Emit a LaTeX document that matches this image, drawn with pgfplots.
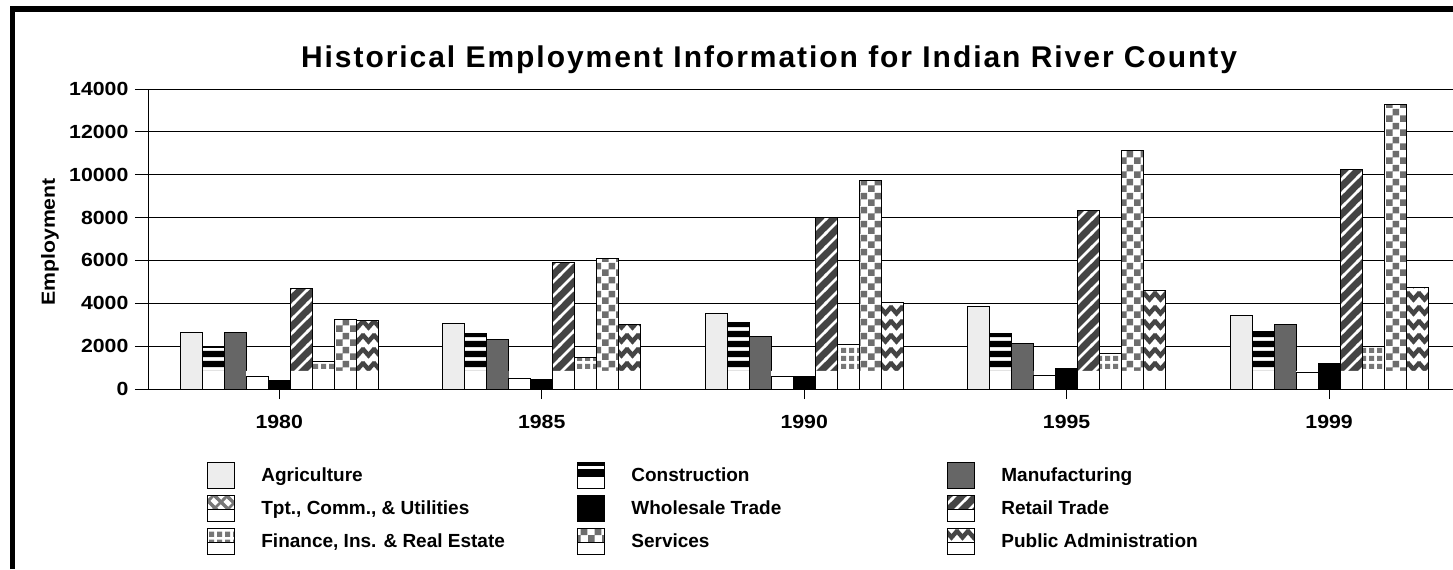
\documentclass[border=0pt]{standalone}
\usepackage{fontspec}
\setmainfont{Liberation Sans}
\usepackage{pgfplots}
\usepackage{pgfplotstable}
\pgfplotsset{compat=1.18}
\usetikzlibrary{patterns}

\definecolor{agri}{HTML}{EDEDED}
\definecolor{manu}{HTML}{666666}
\definecolor{dark44}{HTML}{444444}
\definecolor{gray6e}{HTML}{6E6E6E}
\definecolor{gray77}{HTML}{777777}

% patterns (1px = 0.5pt)
\pgfdeclarepatternformonly{hbands}{\pgfqpoint{0pt}{0pt}}{\pgfqpoint{800pt}{5pt}}{\pgfqpoint{800pt}{5pt}}{%
  \pgfpathrectangle{\pgfqpoint{0pt}{1.5pt}}{\pgfqpoint{800pt}{3.5pt}}\pgfusepath{fill}}
\pgfdeclarepatternformonly{nelines}{\pgfqpoint{-1pt}{-1pt}}{\pgfqpoint{8pt}{8pt}}{\pgfqpoint{7pt}{7pt}}{%
  \pgfsetlinewidth{1.3pt}\pgfpathmoveto{\pgfqpoint{-1pt}{-1pt}}\pgfpathlineto{\pgfqpoint{8pt}{8pt}}\pgfusepath{stroke}}
\pgfdeclarepatternformonly{nwlines}{\pgfqpoint{-1pt}{-1pt}}{\pgfqpoint{7pt}{7pt}}{\pgfqpoint{6pt}{6pt}}{%
  \pgfsetlinewidth{1.6pt}\pgfpathmoveto{\pgfqpoint{-1pt}{7pt}}\pgfpathlineto{\pgfqpoint{7pt}{-1pt}}\pgfusepath{stroke}}
\pgfdeclarepatternformonly{checker}{\pgfqpoint{0pt}{0pt}}{\pgfqpoint{7pt}{7pt}}{\pgfqpoint{7pt}{7pt}}{%
  \pgfpathrectangle{\pgfqpoint{0pt}{0pt}}{\pgfqpoint{3.5pt}{3.5pt}}%
  \pgfpathrectangle{\pgfqpoint{3.5pt}{3.5pt}}{\pgfqpoint{3.5pt}{3.5pt}}\pgfusepath{fill}}
\pgfdeclarepatternformonly{sqgrid}{\pgfqpoint{0pt}{0pt}}{\pgfqpoint{4pt}{4pt}}{\pgfqpoint{4pt}{4pt}}{%
  \pgfpathrectangle{\pgfqpoint{0.6pt}{0.6pt}}{\pgfqpoint{2.8pt}{2.8pt}}\pgfusepath{fill}}
\pgfdeclarepatternformonly{zigzag}{\pgfqpoint{-1.5pt}{0pt}}{\pgfqpoint{7pt}{7pt}}{\pgfqpoint{5.5pt}{7pt}}{%
  \pgfsetlinewidth{2.2pt}\pgfpathmoveto{\pgfqpoint{-0.3pt}{5.3pt}}\pgfpathlineto{\pgfqpoint{2.75pt}{1.8pt}}%
  \pgfpathlineto{\pgfqpoint{5.8pt}{5.3pt}}\pgfusepath{stroke}}

\tikzset{
  confill/.style={fill=white, postaction={pattern=hbands, pattern color=black}},
  tptfill/.style={fill=white, postaction={pattern=nelines, pattern color=gray77},
                  postaction={pattern=nwlines, pattern color=gray77}},
  retfill/.style={fill=dark44, postaction={pattern=nelines, pattern color=white}},
  finfill/.style={fill=white, postaction={pattern=sqgrid, pattern color=gray77}},
  svcfill/.style={fill=white, postaction={pattern=checker, pattern color=gray6e}},
  pubfill/.style={fill=white, postaction={pattern=zigzag, pattern color=dark44}},
}

\pgfplotsset{
  empbar/.style={ybar, bar width=11pt, line width=0.5pt},
  solidswatch/.style={legend image code/.code={%
    \draw[black, line width=0.5pt, #1] (0pt,-6.5pt) rectangle (13.5pt,6.5pt);}},
  patswatch/.style={legend image code/.code={%
    \fill[white] (0pt,-6.5pt) rectangle (13.5pt,6.5pt);
    \fill[#1] (0pt,-0.5pt) rectangle (13.5pt,6.5pt);
    \draw[black, line width=0.5pt] (0pt,-6.5pt) rectangle (13.5pt,6.5pt);}},
}

\newcommand{\fs}{\fontsize{9.5}{11}\selectfont\bfseries}
\newcommand{\ft}{\fontsize{9.5}{11}\selectfont\bfseries\addfontfeature{FakeStretch=1.12}}
\newcommand{\entry}[1]{\makebox[171pt][l]{\hspace{13pt}#1}}

% patterned bar: pattern, white lower part (as the original renders it), outline
\newcommand{\patbar}[4]{%
  \addplot[empbar, bar shift=#1, #3, draw=none, forget plot] table[x=x, y=#2]{\emp};
  \addplot[empbar, bar shift=#1, fill=white, draw=none, forget plot] table[x=x, y=base]{\emp};
  \addplot[empbar, bar shift=#1, draw=black, fill=none, patswatch={#3}] table[x=x, y=#2]{\emp};
  \addlegendentry{\entry{#4}}}

\pgfplotstableread{
x   ag   con  man  tpt whl  ret   fin  svc   pub  base
0   2660 1960 2640 575 390  4700  1275 3250  3190 850
1   3065 2600 2290 480 465  5900  1460 6080  3030 850
2   3530 3125 2430 565 575  8010  2085 9750  4060 850
3   3870 2600 2115 640 965  8320  1665 11140 4600 850
4   3440 2705 3020 760 1180 10265 2005 13300 4730 850
}\emp

\begin{document}
\begin{tikzpicture}
\path[use as bounding box] (0,0) rectangle (726.5pt,284.5pt);
\draw[line width=2.75pt] (6.25pt,0) |- (726.5pt,280pt);
\begin{axis}[
  at={(74pt,90pt)}, anchor=south west,
  scale only axis, width=652.5pt, height=150pt,
  xmin=-0.5, xmax=4.472, ymin=0, ymax=14000,
  enlargelimits=false,
  axis x line*=bottom, axis y line*=left,
  axis line style={line width=0.5pt},
  xtick={0,1,2,3,4}, xticklabels={1980,1985,1990,1995,1999},
  ytick={0,2000,...,14000},
  scaled y ticks=false,
  /pgf/number format/1000 sep={},
  /pgf/number format/assume math mode=true,
  tick align=outside,
  xtick style={black, line width=0.5pt, /pgfplots/major tick length=5pt},
  ytick style={black, line width=0.5pt, /pgfplots/major tick length=6.5pt},
  ymajorgrids, grid style={black, line width=0.5pt},
  tick label style={font=\ft},
  xticklabel style={yshift=-5.5pt},
  yticklabel style={xshift=-2pt},
  ylabel={Employment},
  ylabel style={font=\ft, at={(axis description cs:-0.0751,0.49)}, anchor=center},
  title={\addfontfeature{LetterSpace=6.5}Historical Employment Information for Indian River County},
  title style={font=\fontsize{15}{17}\selectfont\bfseries, at={(axis description cs:0.4759,1.0967)},
    anchor=center, yshift=-6pt},
  legend columns=3,
  legend cell align=left,
  legend style={at={(axis description cs:0.0452,-0.2434)}, anchor=north west,
    draw=none, fill=none, inner sep=0pt, column sep=0pt, row sep=3pt,
    font=\fs, nodes={inner sep=0pt}},
]
\addplot[empbar, bar shift=-44pt, fill=agri, draw=black, solidswatch={fill=agri}] table[x=x, y=ag]{\emp};
\addlegendentry{\entry{Agriculture}}
\patbar{-33pt}{con}{confill}{Construction}
\addplot[empbar, bar shift=-22pt, fill=manu, draw=black, solidswatch={fill=manu}] table[x=x, y=man]{\emp};
\addlegendentry{\entry{Manufacturing}}
\patbar{-11pt}{tpt}{tptfill}{Tpt., Comm., \& Utilities}
\addplot[empbar, bar shift=0pt, fill=black, draw=black, solidswatch={fill=black}] table[x=x, y=whl]{\emp};
\addlegendentry{\entry{Wholesale Trade}}
\patbar{11pt}{ret}{retfill}{Retail Trade}
\patbar{22pt}{fin}{finfill}{Finance, Ins. \& Real Estate}
\patbar{33pt}{svc}{svcfill}{Services}
\patbar{44pt}{pub}{pubfill}{Public Administration}
\end{axis}
\end{tikzpicture}
\end{document}
